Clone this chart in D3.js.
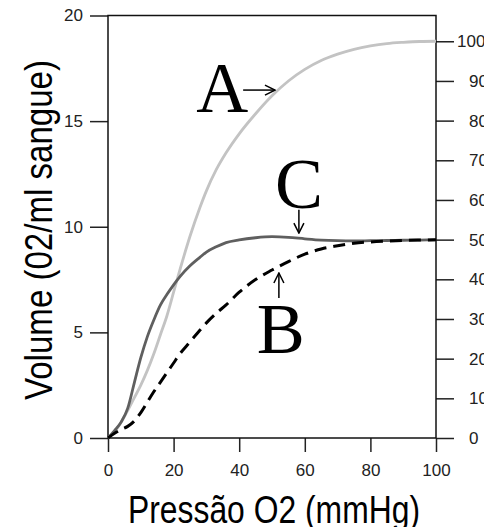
<!DOCTYPE html>
<html>
<head>
<meta charset="utf-8">
<script src="https://cdn.jsdelivr.net/npm/d3@7"></script>
<style>
  body { margin: 0; background: #fff; }
  svg { display: block; }
</style>
</head>
<body>
<svg width="484" height="527"></svg>
<script>
// pressure values (mmHg) used for every curve
let pressure = [0, 2, 4, 6, 8, 10, 12, 14, 16, 18, 20, 22, 25, 28, 30, 33, 36, 40, 45, 50, 55, 60, 65, 70, 75, 80, 85, 90, 95, 100];

// curve A (light grey)
let curveA = [0, 0.3, 0.75, 1.3, 1.9, 2.5, 3.2, 4.0, 4.9, 5.8, 6.9, 8.0, 9.55, 10.9, 11.7, 12.7, 13.5, 14.4, 15.35, 16.2, 16.9, 17.45, 17.87, 18.17, 18.4, 18.56, 18.67, 18.73, 18.77, 18.78];

// curve C (dark grey)
let curveC = [0, 0.35, 0.75, 1.4, 2.6, 3.8, 4.8, 5.6, 6.3, 6.8, 7.25, 7.65, 8.15, 8.55, 8.8, 9.05, 9.25, 9.38, 9.48, 9.53, 9.5, 9.43, 9.37, 9.34, 9.33, 9.34, 9.35, 9.36, 9.37, 9.38];

// curve B (black dashed)
let curveB = [0, 0.22, 0.4, 0.55, 0.8, 1.2, 1.7, 2.2, 2.65, 3.1, 3.55, 4.0, 4.55, 5.1, 5.45, 5.9, 6.3, 6.9, 7.5, 7.95, 8.35, 8.7, 8.95, 9.1, 9.22, 9.28, 9.32, 9.35, 9.37, 9.38];

let xTicks = [0, 20, 40, 60, 80, 100];
let yTicks = [0, 5, 10, 15, 20];
let rightTicks = [0, 10, 20, 30, 40, 50, 60, 70, 80, 90, 100];

// annotation letters, anchored in data units
let labels = [
  { text: "A", x: 34.8, y: 15.43 },
  { text: "C", x: 58.2, y: 10.89 },
  { text: "B", x: 52.7, y: 4.02 },
];
let arrows = [
  { x1: 41.2, y1: 16.47, x2: 50.9, y2: 16.47 },
  { x1: 58.2, y1: 10.8, x2: 58.2, y2: 9.7 },
  { x1: 52.1, y1: 6.63, x2: 52.1, y2: 7.81 },
];

let svg = d3.select("svg");

let x = d3.scaleLinear().domain([0, 100]).range([108, 436]),
  y = d3.scaleLinear().domain([0, 20]).range([438, 15.5]),
  yRight = d3.scaleLinear().domain([0, 100]).range([y(0), y(18.78)]);

let tickFont = "Liberation Sans, Arial, sans-serif";

// left axis
let gl = svg.append("g")
  .attr("transform", "translate(" + x(0) + ",0)")
  .call(d3.axisLeft(y).tickValues(yTicks).tickSize(18).tickPadding(7));

// right axis
let gr = svg.append("g")
  .attr("transform", "translate(" + x(100) + ",0)")
  .call(d3.axisRight(yRight).tickValues(rightTicks).tickSize(18).tickPadding(15));
gr.selectAll(".tick text").filter(d => d == 100).attr("dx", -12);

// bottom axis
let gb = svg.append("g")
  .attr("transform", "translate(0," + y(0) + ")")
  .call(d3.axisBottom(x).tickValues(xTicks).tickSize(14).tickPadding(12));

[gl, gr, gb].forEach(function (g) {
  g.select(".domain").remove();
  g.selectAll(".tick line").attr("stroke", "#222").attr("stroke-width", 1.5);
  g.selectAll(".tick text")
    .attr("fill", "#222")
    .style("font-family", tickFont)
    .style("font-size", "17px");
});

// frame
svg.append("rect")
  .attr("x", x(0))
  .attr("y", y(20))
  .attr("width", x(100) - x(0))
  .attr("height", y(0) - y(20))
  .attr("fill", "none")
  .attr("stroke", "#111")
  .attr("stroke-width", 1.5);

let line = function (values) {
  return d3.line()
    .x((d, i) => x(pressure[i]))
    .y(d => y(d))
    .curve(d3.curveMonotoneX)(values);
};

svg.append("path")
  .attr("d", line(curveA))
  .attr("fill", "none")
  .attr("stroke", "#c3c3c3")
  .attr("stroke-width", 2.8);

svg.append("path")
  .attr("d", line(curveC))
  .attr("fill", "none")
  .attr("stroke", "#5f5f5f")
  .attr("stroke-width", 2.8);

svg.append("path")
  .attr("d", line(curveB))
  .attr("fill", "none")
  .attr("stroke", "#000")
  .attr("stroke-width", 3)
  .attr("stroke-dasharray", "12,7");

// arrows
svg.append("defs").append("marker")
  .attr("id", "head")
  .attr("markerUnits", "userSpaceOnUse")
  .attr("viewBox", "0 0 12 12")
  .attr("refX", 11)
  .attr("refY", 6)
  .attr("markerWidth", 12)
  .attr("markerHeight", 12)
  .attr("orient", "auto")
  .append("path")
  .attr("d", "M1,1 L11,6 L1,11")
  .attr("fill", "none")
  .attr("stroke", "#000")
  .attr("stroke-width", 1.5);

svg.selectAll(".arrow")
  .data(arrows)
  .enter()
  .append("line")
  .attr("class", "arrow")
  .attr("x1", d => x(d.x1))
  .attr("y1", d => y(d.y1))
  .attr("x2", d => x(d.x2))
  .attr("y2", d => y(d.y2))
  .attr("stroke", "#000")
  .attr("stroke-width", 1.5)
  .attr("marker-end", "url(#head)");

svg.selectAll(".letter")
  .data(labels)
  .enter()
  .append("text")
  .attr("class", "letter")
  .attr("x", d => x(d.x))
  .attr("y", d => y(d.y))
  .attr("text-anchor", "middle")
  .style("font-family", "Liberation Serif, Times New Roman, serif")
  .style("font-size", "72px")
  .text(d => d.text);

// axis titles
svg.append("text")
  .attr("x", 274)
  .attr("y", 523)
  .attr("text-anchor", "middle")
  .attr("textLength", 292)
  .attr("lengthAdjust", "spacingAndGlyphs")
  .style("font-family", tickFont)
  .style("font-size", "38px")
  .text("Pressão O2 (mmHg)");

svg.append("text")
  .attr("transform", "translate(52,230) rotate(-90)")
  .attr("text-anchor", "middle")
  .attr("textLength", 340)
  .attr("lengthAdjust", "spacingAndGlyphs")
  .style("font-family", tickFont)
  .style("font-size", "38px")
  .text("Volume (02/ml sangue)");
</script>
</body>
</html>
